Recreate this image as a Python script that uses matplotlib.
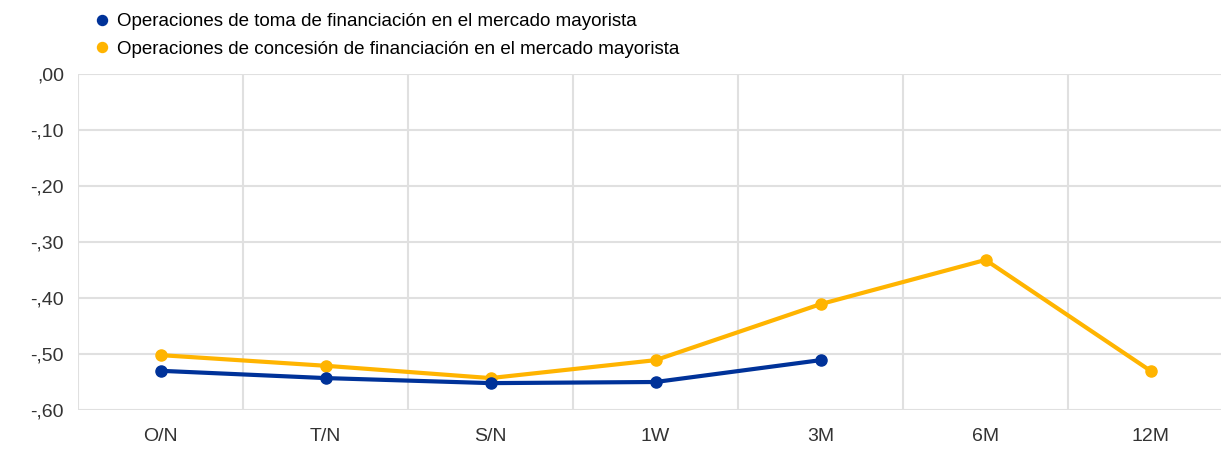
import matplotlib
matplotlib.use("Agg")
import matplotlib.pyplot as plt
import numpy as np

categories = ["O/N", "T/N", "S/N", "1W", "3M", "6M", "12M"]
toma = [-0.530, -0.543, -0.552, -0.550, -0.511]
concesion = [-0.502, -0.521, -0.543, -0.511, -0.411, -0.332, -0.530]
y_ticks = [0.0, -0.1, -0.2, -0.3, -0.4, -0.5, -0.6]
y_labels = [",00", "-,10", "-,20", "-,30", "-,40", "-,50", "-,60"]

blue = "#003299"
yellow = "#FFB400"
grid = "#e0e0e0"

plt.rcParams["font.family"] = ["Liberation Sans", "DejaVu Sans"]

fig = plt.figure(figsize=(12.21, 4.5), dpi=100)
ax = fig.add_axes([78 / 1221, 1 - 410 / 450, 1155 / 1221, 336 / 450])

x = np.arange(len(categories))
ax.plot(x[:len(concesion)], concesion, color=yellow, lw=3, marker="o", ms=8,
        label="Operaciones de concesión de financiación en el mercado mayorista", zorder=3)
ax.plot(x[:len(toma)], toma, color=blue, lw=3, marker="o", ms=8,
        label="Operaciones de toma de financiación en el mercado mayorista", zorder=4)

ax.set_xlim(-0.5, len(categories) - 0.5)
ax.set_ylim(-0.6, 0.0)
ax.set_xticks(x)
ax.set_xticklabels(categories, fontsize=14, color="#333333")
ax.set_yticks(y_ticks)
ax.set_yticklabels(y_labels, fontsize=14, color="#333333")
ax.set_xticks(np.arange(len(categories) + 1) - 0.5, minor=True)
ax.tick_params(which="both", length=0)
ax.tick_params(axis="x", pad=13)
ax.tick_params(axis="y", pad=10)
ax.grid(True, axis="y", which="major", color=grid, lw=1.5)
ax.grid(True, axis="x", which="minor", color=grid, lw=1.5)
for s in ax.spines.values():
    s.set_visible(False)

handles, labels = ax.get_legend_handles_labels()
fig.legend(handles[::-1], labels[::-1], loc="upper left", bbox_to_anchor=(84 / 1221, 1 - 1 / 450),
           frameon=False, fontsize=13.5, handlelength=0.6, handletextpad=0.5, labelspacing=0.55,
           markerscale=0.9, borderpad=0.15)
leg = fig.legends[0]
for h in leg.legend_handles:
    h.set_linestyle("none")

fig.savefig("out.png", dpi=100)
